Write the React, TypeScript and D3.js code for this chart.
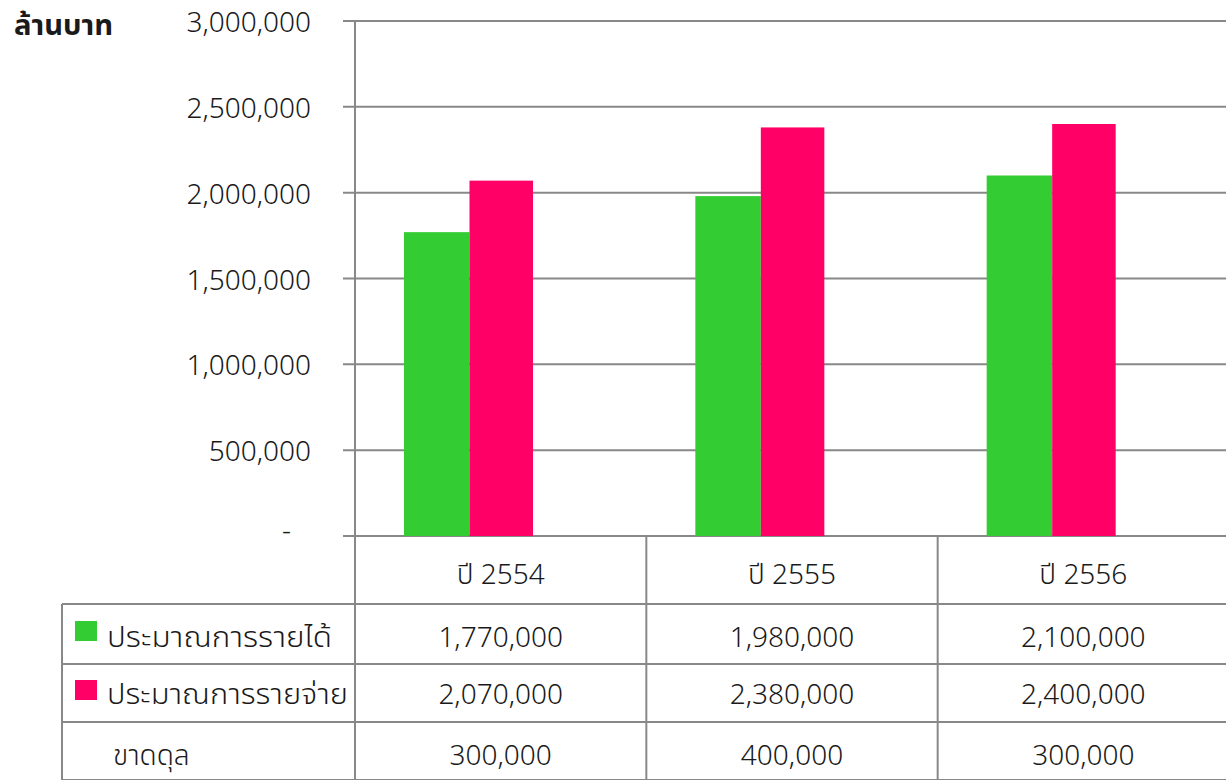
import React from "react";
import * as d3 from "d3";

const categories = ["ปี 2554", "ปี 2555", "ปี 2556"];
const seriesNames = ["ประมาณการรายได้", "ประมาณการรายจ่าย"];
const revenue = [1770000, 1980000, 2100000];
const expense = [2070000, 2380000, 2400000];
const deficit = [300000, 400000, 300000];
const deficitLabel = "ขาดดุล";
const yTicks = [0, 500000, 1000000, 1500000, 2000000, 2500000, 3000000];
const colors = ["#33CC33", "#FF0066"];
const unitLabel = "ล้านบาท";

const W = 1226;
const H = 780;
const FONT = "'Noto Sans', 'Noto Sans Thai', Tahoma, sans-serif";
const GRID = "#888888";
const TXT = "#1a1a1a";
const FS = 28;

export default function App() {
  const left = 355;
  const right = 1229;
  const top = 21;
  const bottom = 536;
  const y = d3.scaleLinear().domain([0, 3000000]).range([bottom, top]);
  const x = d3.scaleBand().domain(categories).range([left, right]).paddingInner(0).paddingOuter(0);
  const inner = d3.scaleBand().domain(["0", "1"]).range([0, 131]).padding(0);
  const groupOffset = 49;
  const fmt = d3.format(",");
  const rowLines = [604, 664, 722, 780];
  const baselines = [584, 647, 704, 765];
  const swatchTops = [621, 680];
  const labelWidths = [225, 241];
  const tableLeft = 62;
  const series = [revenue, expense];

  return (
    <svg width={W} height={H} style={{ position: "absolute", left: 0, top: 0, background: "#fff" }} fontFamily={FONT}>
      {yTicks.map((t) => (
        <line key={"g" + t} x1={343} x2={right} y1={y(t)} y2={y(t)} stroke={GRID} strokeWidth={2} />
      ))}
      {yTicks.map((t) => (
        <text key={"l" + t} x={t === 0 ? 291 : 311} y={y(t) + (t === 0 ? 4 : 11)} textAnchor="end" fontSize={FS} fontWeight={300} fill={TXT}>
          {t === 0 ? "-" : fmt(t)}
        </text>
      ))}
      <text x={14} y={35} fontSize={FS} fontWeight="bold" fill={TXT} textLength={99} lengthAdjust="spacingAndGlyphs">{unitLabel}</text>
      {categories.map((c, i) =>
        series.map((s, j) => (
          <rect
            key={c + j}
            x={(x(c) as number) + groupOffset + (inner(String(j)) as number)}
            y={y(s[i])}
            width={inner.bandwidth() - (j === 1 ? 2 : 0)}
            height={bottom - y(s[i])}
            fill={colors[j]}
          />
        ))
      )}
      {rowLines.map((ly) => (
        <line key={"r" + ly} x1={tableLeft} x2={right} y1={ly} y2={ly} stroke={GRID} strokeWidth={2} />
      ))}
      <line x1={left} x2={left} y1={top} y2={H} stroke={GRID} strokeWidth={2} />
      <line x1={tableLeft} x2={tableLeft} y1={604} y2={H} stroke={GRID} strokeWidth={2} />
      {categories.slice(1).map((c) => (
        <line key={"v" + c} x1={x(c)} x2={x(c)} y1={bottom} y2={H} stroke={GRID} strokeWidth={2} />
      ))}
      {categories.map((c) => (
        <text key={"h" + c} x={(x(c) as number) + x.bandwidth() / 2} y={baselines[0]} textAnchor="middle" fontSize={FS} fontWeight={300} fill={TXT}>
          {c}
        </text>
      ))}
      {series.map((s, j) => (
        <g key={"row" + j}>
          <rect x={75} y={swatchTops[j]} width={22} height={20} fill={colors[j]} />
          <text x={107} y={baselines[j + 1]} fontSize={FS} fontWeight={300} fill={TXT} textLength={labelWidths[j]} lengthAdjust="spacingAndGlyphs">{seriesNames[j]}</text>
          {s.map((v, i) => (
            <text key={i} x={(x(categories[i]) as number) + x.bandwidth() / 2} y={baselines[j + 1]} textAnchor="middle" fontSize={FS} fontWeight={300} fill={TXT}>
              {fmt(v)}
            </text>
          ))}
        </g>
      ))}
      <text x={113} y={baselines[3]} fontSize={FS} fontWeight={300} fill={TXT}>{deficitLabel}</text>
      {deficit.map((v, i) => (
        <text key={"d" + i} x={(x(categories[i]) as number) + x.bandwidth() / 2} y={baselines[3]} textAnchor="middle" fontSize={FS} fontWeight={300} fill={TXT}>
          {fmt(v)}
        </text>
      ))}
    </svg>
  );
}
